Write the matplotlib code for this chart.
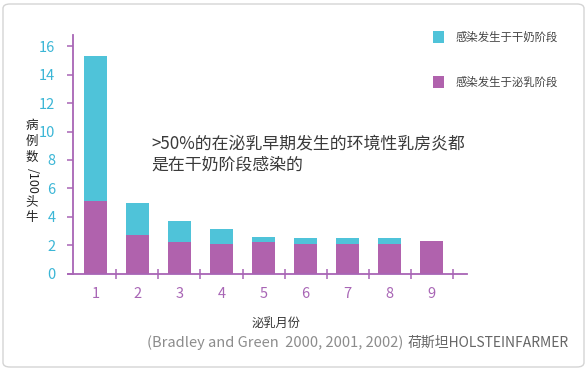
import matplotlib
matplotlib.use("Agg")
import matplotlib.pyplot as plt
from matplotlib.patches import FancyBboxPatch, Rectangle
from matplotlib.ticker import FixedLocator

plt.rcParams['font.family'] = ['Noto Sans CJK SC', 'DejaVu Sans']

months = [1, 2, 3, 4, 5, 6, 7, 8, 9]
month_labels = ["1", "2", "3", "4", "5", "6", "7", "8", "9"]
lactation = [5.1, 2.7, 2.2, 2.1, 2.2, 2.1, 2.1, 2.1, 2.3]     # 感染发生于泌乳阶段
total = [15.3, 5.0, 3.7, 3.1, 2.6, 2.5, 2.5, 2.5, 2.3]
dry = [t - l for t, l in zip(total, lactation)]                # 感染发生于干奶阶段
yticks = [0, 2, 4, 6, 8, 10, 12, 14, 16]

legend_labels = ["感染发生于干奶阶段", "感染发生于泌乳阶段"]
note_lines = [">50%的在泌乳早期发生的环境性乳房炎都", "是在干奶阶段感染的"]
xlabel = "泌乳月份"
citation = "(Bradley and Green  2000, 2001, 2002)"
watermark = "荷斯坦HOLSTEINFARMER"

CYAN = "#4fc3d9"
PURPLE = "#b062ad"
AXIS = "#a865b5"
TICKTXT = "#3bb6d6"

W, H = 587, 370
fig = plt.figure(figsize=(W / 100, H / 100), dpi=100)

# rounded frame (behind everything)
frame = FancyBboxPatch((3 / W, 3 / H), (W - 6) / W, (H - 7) / H,
                       boxstyle="round,pad=0,rounding_size=0.012",
                       transform=fig.transFigure, facecolor="none",
                       edgecolor="#d4d4d4", linewidth=1.0, zorder=-5)
fig.patches.append(frame)

ax = fig.add_axes([68 / W, 1 - 273.5 / H, (466.7 - 68) / W, (273.5 - 35) / H])
ax.set_facecolor("none")

ax.bar(months, lactation, width=0.55, color=PURPLE, zorder=2)
ax.bar(months, dry, width=0.55, bottom=lactation, color=CYAN, zorder=2)

ax.set_xlim(0.35, 9.83)
ax.set_ylim(0, 16.8)

for s in ["top", "right"]:
    ax.spines[s].set_visible(False)
ax.spines["left"].set_position(("data", 0.48))
ax.spines["left"].set_color(AXIS)
ax.spines["bottom"].set_color(AXIS)
ax.spines["left"].set_linewidth(1.3)
ax.spines["bottom"].set_linewidth(1.3)

ax.set_yticks(yticks)
ax.set_yticklabels([str(v) for v in yticks])
ax.tick_params(axis="y", direction="out", length=4, width=1.1, color=AXIS,
               labelcolor=TICKTXT, labelsize=10.5, pad=9)

ax.set_xticks(months)
ax.set_xticklabels(month_labels)
ax.xaxis.set_minor_locator(FixedLocator([m + 0.5 for m in months]))
ax.tick_params(axis="x", which="major", length=0, labelcolor=AXIS,
               labelsize=10.5, pad=10)
ax.tick_params(axis="x", which="minor", direction="inout", length=7,
               width=1.1, color=AXIS)

# legend
for i, (lab, col) in enumerate(zip(legend_labels, [CYAN, PURPLE])):
    yc = 37 + i * 45
    fig.patches.append(Rectangle((433 / W, 1 - (yc + 5.5) / H), 11 / W, 11 / H,
                                 transform=fig.transFigure, facecolor=col,
                                 edgecolor="none"))
    fig.text(455 / W, 1 - yc / H, lab, fontsize=8.2, color="#444444",
             va="center", ha="left")

# annotation
for i, line in enumerate(note_lines):
    fig.text(151 / W, 1 - (143 + i * 22) / H, line, fontsize=12.2,
             color="#3a3a3a", va="center", ha="left")

# y label, vertical stacked
ylab_parts = [("病", 125, 0), ("例", 141, 0), ("数", 157, 0),
              ("/100", 181, -90), ("头", 202, 0), ("牛", 217, 0)]
for txt, yy, rot in ylab_parts:
    fig.text(32 / W, 1 - yy / H, txt, fontsize=9, color="#222222",
             ha="center", va="center", rotation=rot)

fig.text(276 / W, 1 - 323 / H, xlabel, fontsize=8.8, color="#333333",
         ha="center", va="center")
fig.text(147 / W, 1 - 343 / H, citation, fontsize=10.5, color="#8c8c8c",
         ha="left", va="center")
fig.text(408 / W, 1 - 343 / H, watermark, fontsize=10, color="#666666",
         ha="left", va="center",
         bbox=dict(facecolor="white", edgecolor="none", pad=1, alpha=0.6))

fig.savefig("out.png", dpi=100)
